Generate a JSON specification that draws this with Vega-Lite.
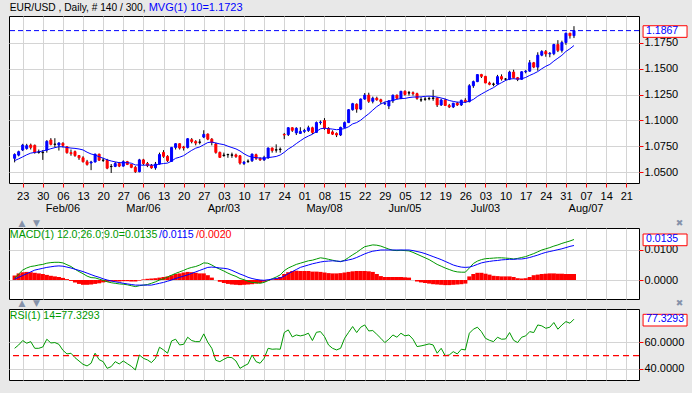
{
"$schema": "https://vega.github.io/schema/vega-lite/v6.json",
"background": "#E8E8E8",
"padding": {"left": 7, "top": 1, "right": 7, "bottom": 13},
"autosize": {"type": "pad"},
"config": {"view": {"stroke": "#000000", "strokeWidth": 1, "fill": "#FFFFFF"}, "axis": {"labelFont": "Liberation Sans", "labelOverlap": false}, "text": {"font": "Liberation Sans"}, "scale": {"continuousPadding": 0}},
"data": {"values": [
{"d":"2017-01-19","o":1.0635,"h":1.0683,"l":1.0596,"c":1.0672,"ma":1.0613,"m":0.0006,"s":0.0003,"hi":0.0015,"r":55.5},
{"d":"2017-01-20","o":1.0666,"h":1.0709,"l":1.0654,"c":1.0699,"ma":1.0630,"m":0.0020,"s":0.0009,"hi":0.0022,"r":58},
{"d":"2017-01-23","o":1.0715,"h":1.0775,"l":1.0705,"c":1.0763,"ma":1.0649,"m":0.0033,"s":0.0015,"hi":0.0026,"r":61.3},
{"d":"2017-01-24","o":1.0730,"h":1.0775,"l":1.0718,"c":1.0757,"ma":1.0669,"m":0.0040,"s":0.0021,"hi":0.0027,"r":59.3},
{"d":"2017-01-25","o":1.0763,"h":1.0777,"l":1.0720,"c":1.0740,"ma":1.0685,"m":0.0045,"s":0.0027,"hi":0.0026,"r":60.5},
{"d":"2017-01-26","o":1.0760,"h":1.0768,"l":1.0680,"c":1.0692,"ma":1.0692,"m":0.0047,"s":0.0033,"hi":0.0024,"r":55.5},
{"d":"2017-01-27","o":1.0693,"h":1.0720,"l":1.0680,"c":1.0697,"ma":1.0698,"m":0.0050,"s":0.0036,"hi":0.0022,"r":55.5},
{"d":"2017-01-30","o":1.0690,"h":1.0715,"l":1.0620,"c":1.0693,"ma":1.0706,"m":0.0052,"s":0.0039,"hi":0.0020,"r":56.5},
{"d":"2017-01-31","o":1.0715,"h":1.0810,"l":1.0690,"c":1.0799,"ma":1.0715,"m":0.0056,"s":0.0042,"hi":0.0017,"r":62.3},
{"d":"2017-02-01","o":1.0811,"h":1.0830,"l":1.0760,"c":1.0770,"ma":1.0728,"m":0.0058,"s":0.0044,"hi":0.0014,"r":59.5},
{"d":"2017-02-02","o":1.0770,"h":1.0829,"l":1.0740,"c":1.0772,"ma":1.0738,"m":0.0059,"s":0.0046,"hi":0.0012,"r":59.8},
{"d":"2017-02-03","o":1.0763,"h":1.0790,"l":1.0710,"c":1.0783,"ma":1.0747,"m":0.0059,"s":0.0047,"hi":0.0010,"r":58.5},
{"d":"2017-02-06","o":1.0780,"h":1.0790,"l":1.0740,"c":1.0760,"ma":1.0746,"m":0.0057,"s":0.0046,"hi":0.0007,"r":54},
{"d":"2017-02-07","o":1.0747,"h":1.0750,"l":1.0680,"c":1.0690,"ma":1.0740,"m":0.0051,"s":0.0043,"hi":0.0003,"r":51.3},
{"d":"2017-02-08","o":1.0690,"h":1.0720,"l":1.0660,"c":1.0680,"ma":1.0734,"m":0.0045,"s":0.0040,"hi":-0.0003,"r":51.8},
{"d":"2017-02-09","o":1.0700,"h":1.0710,"l":1.0650,"c":1.0662,"ma":1.0731,"m":0.0036,"s":0.0036,"hi":-0.0008,"r":48.5},
{"d":"2017-02-10","o":1.0662,"h":1.0665,"l":1.0620,"c":1.0640,"ma":1.0725,"m":0.0028,"s":0.0032,"hi":-0.0013,"r":46},
{"d":"2017-02-13","o":1.0640,"h":1.0655,"l":1.0595,"c":1.0602,"ma":1.0716,"m":0.0021,"s":0.0028,"hi":-0.0016,"r":43.5},
{"d":"2017-02-14","o":1.0602,"h":1.0620,"l":1.0565,"c":1.0576,"ma":1.0694,"m":0.0013,"s":0.0023,"hi":-0.0016,"r":42.3},
{"d":"2017-02-15","o":1.0590,"h":1.0611,"l":1.0521,"c":1.0600,"ma":1.0677,"m":0.0008,"s":0.0018,"hi":-0.0015,"r":44.3},
{"d":"2017-02-16","o":1.0600,"h":1.0680,"l":1.0595,"c":1.0675,"ma":1.0667,"m":0.0007,"s":0.0013,"hi":-0.0013,"r":51.8},
{"d":"2017-02-17","o":1.0675,"h":1.0680,"l":1.0610,"c":1.0617,"ma":1.0650,"m":0.0003,"s":0.0009,"hi":-0.0011,"r":47},
{"d":"2017-02-20","o":1.0617,"h":1.0640,"l":1.0600,"c":1.0616,"ma":1.0636,"m":-0.0001,"s":0.0004,"hi":-0.0008,"r":45.5},
{"d":"2017-02-21","o":1.0616,"h":1.0630,"l":1.0530,"c":1.0540,"ma":1.0621,"m":-0.0006,"s":0.0000,"hi":-0.0006,"r":40.5},
{"d":"2017-02-22","o":1.0555,"h":1.0580,"l":1.0494,"c":1.0557,"ma":1.0609,"m":-0.0009,"s":-0.0003,"hi":-0.0005,"r":41.8},
{"d":"2017-02-23","o":1.0557,"h":1.0600,"l":1.0550,"c":1.0585,"ma":1.0601,"m":-0.0011,"s":-0.0006,"hi":-0.0005,"r":45.5},
{"d":"2017-02-24","o":1.0585,"h":1.0600,"l":1.0550,"c":1.0560,"ma":1.0593,"m":-0.0013,"s":-0.0008,"hi":-0.0005,"r":43.8},
{"d":"2017-02-27","o":1.0560,"h":1.0615,"l":1.0555,"c":1.0603,"ma":1.0593,"m":-0.0014,"s":-0.0011,"hi":-0.0004,"r":46},
{"d":"2017-02-28","o":1.0603,"h":1.0610,"l":1.0570,"c":1.0576,"ma":1.0593,"m":-0.0016,"s":-0.0013,"hi":-0.0004,"r":44},
{"d":"2017-03-01","o":1.0576,"h":1.0580,"l":1.0540,"c":1.0548,"ma":1.0588,"m":-0.0019,"s":-0.0015,"hi":-0.0005,"r":42},
{"d":"2017-03-02","o":1.0548,"h":1.0560,"l":1.0495,"c":1.0506,"ma":1.0571,"m":-0.0022,"s":-0.0017,"hi":-0.0005,"r":39.3},
{"d":"2017-03-03","o":1.0506,"h":1.0630,"l":1.0500,"c":1.0620,"ma":1.0571,"m":-0.0019,"s":-0.0017,"hi":-0.0002,"r":50.5},
{"d":"2017-03-06","o":1.0620,"h":1.0630,"l":1.0570,"c":1.0585,"ma":1.0568,"m":-0.0017,"s":-0.0017,"hi":0.0002,"r":48},
{"d":"2017-03-07","o":1.0585,"h":1.0600,"l":1.0550,"c":1.0565,"ma":1.0571,"m":-0.0015,"s":-0.0017,"hi":0.0004,"r":46.8},
{"d":"2017-03-08","o":1.0565,"h":1.0580,"l":1.0535,"c":1.0543,"ma":1.0569,"m":-0.0011,"s":-0.0017,"hi":0.0005,"r":44.8},
{"d":"2017-03-09","o":1.0543,"h":1.0600,"l":1.0525,"c":1.0580,"ma":1.0569,"m":-0.0006,"s":-0.0014,"hi":0.0006,"r":48},
{"d":"2017-03-10","o":1.0580,"h":1.0690,"l":1.0575,"c":1.0672,"ma":1.0580,"m":0.0000,"s":-0.0011,"hi":0.0008,"r":56.3},
{"d":"2017-03-13","o":1.0692,"h":1.0714,"l":1.0640,"c":1.0654,"ma":1.0585,"m":0.0004,"s":-0.0008,"hi":0.0010,"r":54.3},
{"d":"2017-03-14","o":1.0654,"h":1.0665,"l":1.0600,"c":1.0612,"ma":1.0589,"m":0.0010,"s":-0.0004,"hi":0.0012,"r":51.8},
{"d":"2017-03-15","o":1.0605,"h":1.0745,"l":1.0600,"c":1.0740,"ma":1.0608,"m":0.0016,"s":0.0000,"hi":0.0016,"r":61},
{"d":"2017-03-16","o":1.0740,"h":1.0780,"l":1.0720,"c":1.0776,"ma":1.0635,"m":0.0022,"s":0.0005,"hi":0.0020,"r":62.3},
{"d":"2017-03-17","o":1.0776,"h":1.0780,"l":1.0720,"c":1.0734,"ma":1.0646,"m":0.0027,"s":0.0009,"hi":0.0022,"r":58},
{"d":"2017-03-20","o":1.0745,"h":1.0755,"l":1.0710,"c":1.0735,"ma":1.0661,"m":0.0032,"s":0.0013,"hi":0.0025,"r":58.5},
{"d":"2017-03-21","o":1.0740,"h":1.0830,"l":1.0730,"c":1.0824,"ma":1.0687,"m":0.0038,"s":0.0017,"hi":0.0027,"r":63.8},
{"d":"2017-03-22","o":1.0815,"h":1.0830,"l":1.0780,"c":1.0797,"ma":1.0712,"m":0.0042,"s":0.0022,"hi":0.0026,"r":61.3},
{"d":"2017-03-23","o":1.0797,"h":1.0810,"l":1.0760,"c":1.0782,"ma":1.0733,"m":0.0045,"s":0.0027,"hi":0.0024,"r":60.5},
{"d":"2017-03-24","o":1.0790,"h":1.0820,"l":1.0770,"c":1.0792,"ma":1.0745,"m":0.0050,"s":0.0032,"hi":0.0022,"r":60.5},
{"d":"2017-03-27","o":1.0840,"h":1.0906,"l":1.0830,"c":1.0866,"ma":1.0766,"m":0.0057,"s":0.0037,"hi":0.0022,"r":66.3},
{"d":"2017-03-28","o":1.0869,"h":1.0875,"l":1.0810,"c":1.0820,"ma":1.0787,"m":0.0056,"s":0.0042,"hi":0.0016,"r":60},
{"d":"2017-03-29","o":1.0820,"h":1.0830,"l":1.0760,"c":1.0790,"ma":1.0792,"m":0.0050,"s":0.0043,"hi":0.0008,"r":55.5},
{"d":"2017-03-30","o":1.0773,"h":1.0785,"l":1.0680,"c":1.0692,"ma":1.0783,"m":0.0042,"s":0.0042,"hi":0.0000,"r":46.5},
{"d":"2017-03-31","o":1.0692,"h":1.0700,"l":1.0640,"c":1.0644,"ma":1.0774,"m":0.0036,"s":0.0040,"hi":-0.0006,"r":45.5},
{"d":"2017-04-03","o":1.0662,"h":1.0690,"l":1.0650,"c":1.0666,"ma":1.0767,"m":0.0030,"s":0.0039,"hi":-0.0010,"r":47.3},
{"d":"2017-04-04","o":1.0670,"h":1.0680,"l":1.0640,"c":1.0672,"ma":1.0752,"m":0.0023,"s":0.0037,"hi":-0.0013,"r":48.8},
{"d":"2017-04-05","o":1.0665,"h":1.0690,"l":1.0640,"c":1.0668,"ma":1.0739,"m":0.0017,"s":0.0032,"hi":-0.0015,"r":48.5},
{"d":"2017-04-06","o":1.0668,"h":1.0680,"l":1.0640,"c":1.0652,"ma":1.0726,"m":0.0012,"s":0.0026,"hi":-0.0016,"r":46},
{"d":"2017-04-07","o":1.0660,"h":1.0665,"l":1.0575,"c":1.0589,"ma":1.0706,"m":0.0005,"s":0.0020,"hi":-0.0017,"r":40.5},
{"d":"2017-04-10","o":1.0585,"h":1.0610,"l":1.0570,"c":1.0598,"ma":1.0679,"m":0.0001,"s":0.0015,"hi":-0.0016,"r":42.3},
{"d":"2017-04-11","o":1.0605,"h":1.0625,"l":1.0590,"c":1.0608,"ma":1.0658,"m":-0.0004,"s":0.0009,"hi":-0.0015,"r":43.8},
{"d":"2017-04-12","o":1.0612,"h":1.0680,"l":1.0600,"c":1.0676,"ma":1.0647,"m":-0.0008,"s":0.0005,"hi":-0.0014,"r":50.5},
{"d":"2017-04-13","o":1.0670,"h":1.0680,"l":1.0620,"c":1.0635,"ma":1.0641,"m":-0.0009,"s":0.0002,"hi":-0.0012,"r":45.5},
{"d":"2017-04-14","o":1.0632,"h":1.0645,"l":1.0610,"c":1.0620,"ma":1.0638,"m":-0.0011,"s":0.0000,"hi":-0.0010,"r":44.3},
{"d":"2017-04-17","o":1.0620,"h":1.0660,"l":1.0610,"c":1.0644,"ma":1.0636,"m":-0.0008,"s":-0.0001,"hi":-0.0006,"r":48},
{"d":"2017-04-18","o":1.0640,"h":1.0740,"l":1.0630,"c":1.0734,"ma":1.0642,"m":-0.0002,"s":0.0001,"hi":-0.0002,"r":55.5},
{"d":"2017-04-19","o":1.0734,"h":1.0740,"l":1.0690,"c":1.0710,"ma":1.0647,"m":0.0004,"s":0.0003,"hi":0.0002,"r":54.8},
{"d":"2017-04-20","o":1.0715,"h":1.0770,"l":1.0690,"c":1.0717,"ma":1.0653,"m":0.0010,"s":0.0005,"hi":0.0005,"r":55},
{"d":"2017-04-21","o":1.0720,"h":1.0740,"l":1.0690,"c":1.0723,"ma":1.0667,"m":0.0017,"s":0.0007,"hi":0.0010,"r":54.8},
{"d":"2017-04-24","o":1.0865,"h":1.0880,"l":1.0820,"c":1.0860,"ma":1.0693,"m":0.0031,"s":0.0013,"hi":0.0020,"r":67.3},
{"d":"2017-04-25","o":1.0864,"h":1.0935,"l":1.0850,"c":1.0930,"ma":1.0725,"m":0.0040,"s":0.0021,"hi":0.0026,"r":69.3},
{"d":"2017-04-26","o":1.0930,"h":1.0935,"l":1.0890,"c":1.0905,"ma":1.0748,"m":0.0046,"s":0.0028,"hi":0.0030,"r":64},
{"d":"2017-04-27","o":1.0880,"h":1.0935,"l":1.0860,"c":1.0925,"ma":1.0777,"m":0.0052,"s":0.0035,"hi":0.0031,"r":65.5},
{"d":"2017-04-28","o":1.0875,"h":1.0935,"l":1.0870,"c":1.0895,"ma":1.0804,"m":0.0056,"s":0.0042,"hi":0.0030,"r":64.8},
{"d":"2017-05-01","o":1.0895,"h":1.0920,"l":1.0880,"c":1.0903,"ma":1.0830,"m":0.0060,"s":0.0046,"hi":0.0030,"r":65.5},
{"d":"2017-05-02","o":1.0903,"h":1.0950,"l":1.0890,"c":1.0930,"ma":1.0850,"m":0.0064,"s":0.0050,"hi":0.0030,"r":66.8},
{"d":"2017-05-03","o":1.0930,"h":1.0940,"l":1.0870,"c":1.0885,"ma":1.0867,"m":0.0066,"s":0.0054,"hi":0.0028,"r":61.3},
{"d":"2017-05-04","o":1.0885,"h":1.0990,"l":1.0880,"c":1.0980,"ma":1.0894,"m":0.0070,"s":0.0057,"hi":0.0028,"r":67.5},
{"d":"2017-05-05","o":1.0980,"h":1.1000,"l":1.0960,"c":1.0985,"ma":1.0920,"m":0.0074,"s":0.0060,"hi":0.0027,"r":68},
{"d":"2017-05-08","o":1.1000,"h":1.1023,"l":1.0910,"c":1.0925,"ma":1.0926,"m":0.0072,"s":0.0062,"hi":0.0025,"r":64.3},
{"d":"2017-05-09","o":1.0925,"h":1.0935,"l":1.0870,"c":1.0876,"ma":1.0921,"m":0.0069,"s":0.0063,"hi":0.0023,"r":58},
{"d":"2017-05-10","o":1.0890,"h":1.0905,"l":1.0860,"c":1.0868,"ma":1.0917,"m":0.0066,"s":0.0064,"hi":0.0022,"r":55.5},
{"d":"2017-05-11","o":1.0875,"h":1.0885,"l":1.0840,"c":1.0860,"ma":1.0911,"m":0.0063,"s":0.0063,"hi":0.0022,"r":54.3},
{"d":"2017-05-12","o":1.0860,"h":1.0940,"l":1.0850,"c":1.0933,"ma":1.0915,"m":0.0061,"s":0.0062,"hi":0.0023,"r":55.5},
{"d":"2017-05-15","o":1.0933,"h":1.0990,"l":1.0925,"c":1.0980,"ma":1.0922,"m":0.0066,"s":0.0064,"hi":0.0025,"r":63},
{"d":"2017-05-16","o":1.0980,"h":1.1110,"l":1.0975,"c":1.1104,"ma":1.0940,"m":0.0075,"s":0.0067,"hi":0.0027,"r":67.5},
{"d":"2017-05-17","o":1.1104,"h":1.1170,"l":1.1095,"c":1.1162,"ma":1.0967,"m":0.0084,"s":0.0070,"hi":0.0029,"r":71.8},
{"d":"2017-05-18","o":1.1157,"h":1.1165,"l":1.1075,"c":1.1110,"ma":1.0980,"m":0.0092,"s":0.0075,"hi":0.0030,"r":67.3},
{"d":"2017-05-19","o":1.1110,"h":1.1212,"l":1.1100,"c":1.1207,"ma":1.1003,"m":0.0102,"s":0.0081,"hi":0.0030,"r":71.3},
{"d":"2017-05-22","o":1.1207,"h":1.1265,"l":1.1200,"c":1.1245,"ma":1.1035,"m":0.0111,"s":0.0087,"hi":0.0030,"r":73},
{"d":"2017-05-23","o":1.1245,"h":1.1268,"l":1.1170,"c":1.1185,"ma":1.1065,"m":0.0114,"s":0.0092,"hi":0.0029,"r":68.5},
{"d":"2017-05-24","o":1.1185,"h":1.1230,"l":1.1165,"c":1.1215,"ma":1.1100,"m":0.0117,"s":0.0096,"hi":0.0027,"r":68.8},
{"d":"2017-05-25","o":1.1215,"h":1.1230,"l":1.1190,"c":1.1200,"ma":1.1134,"m":0.0116,"s":0.0098,"hi":0.0020,"r":66},
{"d":"2017-05-26","o":1.1200,"h":1.1210,"l":1.1160,"c":1.1183,"ma":1.1159,"m":0.0113,"s":0.0100,"hi":0.0013,"r":63},
{"d":"2017-05-29","o":1.1160,"h":1.1180,"l":1.1150,"c":1.1165,"ma":1.1178,"m":0.0108,"s":0.0100,"hi":0.0010,"r":59.8},
{"d":"2017-05-30","o":1.1140,"h":1.1195,"l":1.1110,"c":1.1190,"ma":1.1186,"m":0.0103,"s":0.0100,"hi":0.0010,"r":62.3},
{"d":"2017-05-31","o":1.1190,"h":1.1250,"l":1.1170,"c":1.1244,"ma":1.1194,"m":0.0099,"s":0.0100,"hi":0.0010,"r":65.5},
{"d":"2017-06-01","o":1.1244,"h":1.1250,"l":1.1205,"c":1.1214,"ma":1.1205,"m":0.0098,"s":0.0100,"hi":0.0010,"r":63.8},
{"d":"2017-06-02","o":1.1214,"h":1.1285,"l":1.1205,"c":1.1282,"ma":1.1212,"m":0.0099,"s":0.0100,"hi":0.0010,"r":66.8},
{"d":"2017-06-05","o":1.1282,"h":1.1290,"l":1.1240,"c":1.1251,"ma":1.1213,"m":0.0098,"s":0.0100,"hi":0.0009,"r":64.8},
{"d":"2017-06-06","o":1.1265,"h":1.1285,"l":1.1240,"c":1.1268,"ma":1.1221,"m":0.0097,"s":0.0100,"hi":0.0008,"r":65.5},
{"d":"2017-06-07","o":1.1268,"h":1.1280,"l":1.1240,"c":1.1259,"ma":1.1226,"m":0.0092,"s":0.0098,"hi":0.0000,"r":62.3},
{"d":"2017-06-08","o":1.1259,"h":1.1268,"l":1.1200,"c":1.1213,"ma":1.1227,"m":0.0086,"s":0.0095,"hi":-0.0005,"r":56.8},
{"d":"2017-06-09","o":1.1200,"h":1.1225,"l":1.1180,"c":1.1198,"ma":1.1228,"m":0.0080,"s":0.0092,"hi":-0.0008,"r":57.3},
{"d":"2017-06-12","o":1.1205,"h":1.1225,"l":1.1190,"c":1.1207,"ma":1.1233,"m":0.0074,"s":0.0088,"hi":-0.0010,"r":58},
{"d":"2017-06-13","o":1.1210,"h":1.1230,"l":1.1195,"c":1.1212,"ma":1.1235,"m":0.0068,"s":0.0083,"hi":-0.0012,"r":58.8},
{"d":"2017-06-14","o":1.1214,"h":1.1296,"l":1.1190,"c":1.1216,"ma":1.1232,"m":0.0060,"s":0.0078,"hi":-0.0014,"r":58},
{"d":"2017-06-15","o":1.1216,"h":1.1225,"l":1.1130,"c":1.1150,"ma":1.1226,"m":0.0052,"s":0.0073,"hi":-0.0015,"r":51.8},
{"d":"2017-06-16","o":1.1150,"h":1.1210,"l":1.1140,"c":1.1197,"ma":1.1217,"m":0.0046,"s":0.0068,"hi":-0.0016,"r":55.5},
{"d":"2017-06-19","o":1.1197,"h":1.1210,"l":1.1140,"c":1.1145,"ma":1.1207,"m":0.0040,"s":0.0062,"hi":-0.0017,"r":50},
{"d":"2017-06-20","o":1.1145,"h":1.1160,"l":1.1120,"c":1.1131,"ma":1.1193,"m":0.0035,"s":0.0056,"hi":-0.0017,"r":50.5},
{"d":"2017-06-21","o":1.1131,"h":1.1170,"l":1.1120,"c":1.1167,"ma":1.1184,"m":0.0030,"s":0.0050,"hi":-0.0016,"r":53},
{"d":"2017-06-22","o":1.1167,"h":1.1180,"l":1.1140,"c":1.1150,"ma":1.1177,"m":0.0027,"s":0.0046,"hi":-0.0015,"r":51.3},
{"d":"2017-06-23","o":1.1150,"h":1.1200,"l":1.1140,"c":1.1195,"ma":1.1177,"m":0.0026,"s":0.0043,"hi":-0.0014,"r":54.8},
{"d":"2017-06-26","o":1.1195,"h":1.1215,"l":1.1170,"c":1.1182,"ma":1.1175,"m":0.0026,"s":0.0042,"hi":-0.0012,"r":54.3},
{"d":"2017-06-27","o":1.1182,"h":1.1350,"l":1.1175,"c":1.1335,"ma":1.1187,"m":0.0040,"s":0.0043,"hi":0.0012,"r":66.8},
{"d":"2017-06-28","o":1.1335,"h":1.1385,"l":1.1315,"c":1.1375,"ma":1.1203,"m":0.0055,"s":0.0047,"hi":0.0020,"r":69.8},
{"d":"2017-06-29","o":1.1375,"h":1.1445,"l":1.1370,"c":1.1443,"ma":1.1232,"m":0.0063,"s":0.0052,"hi":0.0024,"r":71.3},
{"d":"2017-06-30","o":1.1443,"h":1.1450,"l":1.1410,"c":1.1426,"ma":1.1255,"m":0.0068,"s":0.0057,"hi":0.0024,"r":68},
{"d":"2017-07-03","o":1.1426,"h":1.1430,"l":1.1360,"c":1.1362,"ma":1.1277,"m":0.0071,"s":0.0060,"hi":0.0021,"r":63},
{"d":"2017-07-04","o":1.1362,"h":1.1375,"l":1.1340,"c":1.1349,"ma":1.1298,"m":0.0072,"s":0.0062,"hi":0.0018,"r":61.5},
{"d":"2017-07-05","o":1.1349,"h":1.1365,"l":1.1330,"c":1.1352,"ma":1.1317,"m":0.0073,"s":0.0064,"hi":0.0014,"r":60.5},
{"d":"2017-07-06","o":1.1352,"h":1.1440,"l":1.1345,"c":1.1423,"ma":1.1344,"m":0.0074,"s":0.0065,"hi":0.0013,"r":63.8},
{"d":"2017-07-07","o":1.1423,"h":1.1445,"l":1.1385,"c":1.1400,"ma":1.1365,"m":0.0074,"s":0.0067,"hi":0.0012,"r":62.3},
{"d":"2017-07-10","o":1.1400,"h":1.1410,"l":1.1385,"c":1.1399,"ma":1.1386,"m":0.0073,"s":0.0068,"hi":0.0012,"r":62.5},
{"d":"2017-07-11","o":1.1399,"h":1.1480,"l":1.1390,"c":1.1467,"ma":1.1400,"m":0.0072,"s":0.0069,"hi":0.0012,"r":67.3},
{"d":"2017-07-12","o":1.1467,"h":1.1490,"l":1.1405,"c":1.1413,"ma":1.1403,"m":0.0070,"s":0.0069,"hi":0.0010,"r":61.5},
{"d":"2017-07-13","o":1.1413,"h":1.1420,"l":1.1380,"c":1.1397,"ma":1.1399,"m":0.0072,"s":0.0070,"hi":0.0006,"r":59.8},
{"d":"2017-07-14","o":1.1397,"h":1.1475,"l":1.1395,"c":1.1470,"ma":1.1403,"m":0.0075,"s":0.0070,"hi":0.0005,"r":63.8},
{"d":"2017-07-17","o":1.1470,"h":1.1485,"l":1.1455,"c":1.1476,"ma":1.1415,"m":0.0078,"s":0.0072,"hi":0.0006,"r":64.8},
{"d":"2017-07-18","o":1.1476,"h":1.1583,"l":1.1470,"c":1.1557,"ma":1.1435,"m":0.0083,"s":0.0075,"hi":0.0010,"r":68},
{"d":"2017-07-19","o":1.1557,"h":1.1565,"l":1.1505,"c":1.1515,"ma":1.1452,"m":0.0088,"s":0.0079,"hi":0.0016,"r":67.3},
{"d":"2017-07-20","o":1.1515,"h":1.1658,"l":1.1480,"c":1.1630,"ma":1.1472,"m":0.0094,"s":0.0083,"hi":0.0018,"r":73},
{"d":"2017-07-21","o":1.1630,"h":1.1678,"l":1.1620,"c":1.1665,"ma":1.1499,"m":0.0100,"s":0.0088,"hi":0.0020,"r":72.3},
{"d":"2017-07-24","o":1.1665,"h":1.1680,"l":1.1615,"c":1.1642,"ma":1.1523,"m":0.0104,"s":0.0092,"hi":0.0021,"r":70.5},
{"d":"2017-07-25","o":1.1642,"h":1.1660,"l":1.1610,"c":1.1648,"ma":1.1541,"m":0.0108,"s":0.0095,"hi":0.0022,"r":71.3},
{"d":"2017-07-26","o":1.1645,"h":1.1740,"l":1.1630,"c":1.1733,"ma":1.1573,"m":0.0113,"s":0.0098,"hi":0.0022,"r":74.8},
{"d":"2017-07-27","o":1.1733,"h":1.1775,"l":1.1660,"c":1.1676,"ma":1.1601,"m":0.0117,"s":0.0101,"hi":0.0021,"r":69.8},
{"d":"2017-07-28","o":1.1676,"h":1.1770,"l":1.1655,"c":1.1752,"ma":1.1629,"m":0.0122,"s":0.0104,"hi":0.0021,"r":73},
{"d":"2017-07-31","o":1.1752,"h":1.1847,"l":1.1730,"c":1.1842,"ma":1.1666,"m":0.0126,"s":0.0108,"hi":0.0020,"r":75.5},
{"d":"2017-08-01","o":1.1842,"h":1.1845,"l":1.1790,"c":1.1818,"ma":1.1692,"m":0.0130,"s":0.0112,"hi":0.0020,"r":74.3},
{"d":"2017-08-02","o":1.1818,"h":1.1910,"l":1.1795,"c":1.1867,"ma":1.1723,"m":0.0135,"s":0.0115,"hi":0.0020,"r":77.33}
]},
"transform": [{"window": [{"op": "row_number", "as": "n"}]}],
"bounds": "flush",
"spacing": 45,
"vconcat": [
{
 "width": 630, "height": 167,
 "layer": [
  {"mark": {"type": "rule", "color": "#000000", "strokeWidth": 1},
   "encoding": {
    "x": {"field": "n", "type": "quantitative", "scale": {"domain": [-0.4, 156.16], "nice": false, "zero": false, "padding": 0},
      "axis": {"orient": "bottom", "values": [3,8,13,18,23,28,33,38,43,48,53,58,63,68,73,78,83,88,93,98,103,108,113,118,123,128,133,138,143,148,153], "tickCount": 100,
        "labelExpr": "timeFormat(datetime(2017,0,23+7*(datum.value-3)/5),'%d')",
        "grid": true, "gridColor": "#D4D4D4", "tickColor": "#FF0000", "tickSize": 4, "domain": false, "labelFontSize": 11, "labelColor": "#000000", "labelPadding": 3, "labelFlush": false, "labelOverlap": false, "labelBound": false, "title": null}},
    "y": {"field": "l", "type": "quantitative", "scale": {"domain": [1.0397, 1.2008], "nice": false, "zero": false, "padding": 0},
      "axis": {"orient": "right", "values": [1.05, 1.075, 1.1, 1.125, 1.15, 1.175], "tickCount": 20, "format": ".4f", "grid": true, "gridColor": "#D4D4D4", "tickColor": "#FF0000", "tickSize": 4, "domain": false, "labelFontSize": 11, "labelColor": "#000000", "labelPadding": 1, "labelFlush": false, "labelOverlap": false, "title": null}},
    "y2": {"field": "h"}
   }},
  {"mark": {"type": "bar", "orient": "vertical", "size": 2, "strokeWidth": 1},
   "encoding": {
    "x": {"field": "n", "type": "quantitative"},
    "y": {"field": "o", "type": "quantitative"},
    "y2": {"field": "c"},
    "fill": {"condition": [{"test": "abs(datum.c-datum.o)<=0.00045", "value": "#000000"}, {"test": "datum.c>datum.o", "value": "#0000FF"}], "value": "#FF0000"},
    "stroke": {"condition": [{"test": "abs(datum.c-datum.o)<=0.00045", "value": "#000000"}, {"test": "datum.c>datum.o", "value": "#0000FF"}], "value": "#FF0000"}
   }},
  {"mark": {"type": "line", "color": "#0000FF", "strokeWidth": 1},
   "encoding": {"x": {"field": "n", "type": "quantitative"}, "y": {"field": "ma", "type": "quantitative"}}},
  {"data": {"values": [{}]}, "mark": {"type": "rule", "color": "#0000FF", "strokeWidth": 1, "strokeDash": [5, 3]},
   "encoding": {"y": {"datum": 1.1867, "type": "quantitative"}}},
  {"data": {"values": [{"t": "Feb/06", "p": 13}, {"t": "Mar/06", "p": 33}, {"t": "Apr/03", "p": 53}, {"t": "May/08", "p": 78}, {"t": "Jun/05", "p": 98}, {"t": "Jul/03", "p": 118}, {"t": "Aug/07", "p": 143}]},
   "mark": {"type": "text", "align": "center", "baseline": "middle", "fontSize": 11, "color": "#000000"},
   "encoding": {"x": {"field": "p", "type": "quantitative"}, "y": {"datum": 1.0145, "type": "quantitative"}, "text": {"field": "t"}}},
  {"data": {"values": [{}]}, "mark": {"type": "rect", "fill": "#FFFFFF", "stroke": "#FF0000", "strokeWidth": 1},
   "encoding": {"x": {"datum": 157.17, "type": "quantitative"}, "x2": {"datum": 168.1}, "y": {"datum": 1.1914, "type": "quantitative"}, "y2": {"datum": 1.1802}}},
  {"data": {"values": [{}]}, "mark": {"type": "text", "align": "left", "baseline": "middle", "fontSize": 10.5, "color": "#0000FF", "text": "1.1867"},
   "encoding": {"x": {"datum": 157.92, "type": "quantitative"}, "y": {"datum": 1.1867, "type": "quantitative"}}},
  {"data": {"values": [{}]}, "mark": {"type": "text", "align": "left", "baseline": "middle", "fontSize": 10.2, "color": "#000000", "text": "EUR/USD , Daily, # 140 / 300,"},
   "encoding": {"x": {"datum": -0.2, "type": "quantitative"}, "y": {"datum": 1.2085, "type": "quantitative"}}},
  {"data": {"values": [{}]}, "mark": {"type": "text", "align": "left", "baseline": "middle", "fontSize": 11, "color": "#0000FF", "text": "MVG(1) 10=1.1723"},
   "encoding": {"x": {"datum": 34.3, "type": "quantitative"}, "y": {"datum": 1.2085, "type": "quantitative"}}}
 ]
},
{
 "bounds": "flush",
 "spacing": 10,
 "vconcat": [
  {
   "width": 630, "height": 71,
   "layer": [
    {"mark": {"type": "bar", "orient": "vertical", "size": 4.1, "color": "#FF0000"},
     "encoding": {
      "x": {"field": "n", "type": "quantitative", "scale": {"domain": [-0.4, 156.16], "nice": false, "zero": false, "padding": 0},
        "axis": {"values": [3,8,13,18,23,28,33,38,43,48,53,58,63,68,73,78,83,88,93,98,103,108,113,118,123,128,133,138,143,148,153], "tickCount": 100, "labels": false, "ticks": false, "domain": false, "grid": true, "gridColor": "#D4D4D4", "title": null}},
      "y": {"field": "hi", "type": "quantitative", "stack": null, "scale": {"domain": [-0.00633, 0.01733], "nice": false, "zero": false, "padding": 0},
        "axis": {"orient": "right", "values": [0, 0.01], "tickCount": 20, "format": ".4f", "grid": true, "gridColor": "#D4D4D4", "tickColor": "#FF0000", "tickSize": 4, "domain": false, "labelFontSize": 11, "labelColor": "#000000", "labelPadding": 1, "labelFlush": false, "labelOverlap": false, "title": null}}
     }},
    {"mark": {"type": "line", "color": "#009900", "strokeWidth": 1},
     "encoding": {"x": {"field": "n", "type": "quantitative"}, "y": {"field": "m", "type": "quantitative"}}},
    {"mark": {"type": "line", "color": "#0000FF", "strokeWidth": 1},
     "encoding": {"x": {"field": "n", "type": "quantitative"}, "y": {"field": "s", "type": "quantitative"}}},
    {"data": {"values": [{}]}, "mark": {"type": "text", "align": "left", "baseline": "middle", "fontSize": 10.6, "color": "#009900", "text": "MACD(1) 12.0;26.0;9.0=0.0135"},
     "encoding": {"x": {"datum": -0.2, "type": "quantitative"}, "y": {"datum": 0.015, "type": "quantitative"}}},
    {"data": {"values": [{}]}, "mark": {"type": "text", "align": "left", "baseline": "middle", "fontSize": 10.6, "color": "#0000FF", "text": "/0.0115"},
     "encoding": {"x": {"datum": 36.9, "type": "quantitative"}, "y": {"datum": 0.015, "type": "quantitative"}}},
    {"data": {"values": [{}]}, "mark": {"type": "text", "align": "left", "baseline": "middle", "fontSize": 10.6, "color": "#FF0000", "text": "/0.0020"},
     "encoding": {"x": {"datum": 46.1, "type": "quantitative"}, "y": {"datum": 0.015, "type": "quantitative"}}},
    {"data": {"values": [{}]}, "mark": {"type": "rect", "fill": "#FFFFFF", "stroke": "#FF0000", "strokeWidth": 1},
     "encoding": {"x": {"datum": 157.17, "type": "quantitative"}, "x2": {"datum": 168.1}, "y": {"datum": 0.01533, "type": "quantitative"}, "y2": {"datum": 0.01143}}},
    {"data": {"values": [{}]}, "mark": {"type": "text", "align": "left", "baseline": "middle", "fontSize": 10.5, "color": "#0000FF", "text": "0.0135"},
     "encoding": {"x": {"datum": 157.92, "type": "quantitative"}, "y": {"datum": 0.0135, "type": "quantitative"}}},
    {"data": {"values": [{"t": "▲", "p": 2.83}, {"t": "▼", "p": 6.43}]}, "mark": {"type": "text", "align": "center", "baseline": "middle", "fontSize": 9, "font": "DejaVu Sans", "color": "#8592AA"},
     "encoding": {"x": {"field": "p", "type": "quantitative"}, "y": {"datum": 0.0189, "type": "quantitative"}, "text": {"field": "t"}}},
    {"data": {"values": [{}]}, "mark": {"type": "text", "align": "center", "baseline": "middle", "fontSize": 9, "font": "DejaVu Sans", "color": "#8592AA", "text": "✖"},
     "encoding": {"x": {"datum": 166.25, "type": "quantitative"}, "y": {"datum": 0.0189, "type": "quantitative"}}}
   ]
  },
  {
   "width": 630, "height": 71,
   "layer": [
    {"mark": {"type": "line", "color": "#009900", "strokeWidth": 1},
     "encoding": {
      "x": {"field": "n", "type": "quantitative", "scale": {"domain": [-0.4, 156.16], "nice": false, "zero": false, "padding": 0},
        "axis": {"values": [3,8,13,18,23,28,33,38,43,48,53,58,63,68,73,78,83,88,93,98,103,108,113,118,123,128,133,138,143,148,153], "tickCount": 100, "labels": false, "ticks": false, "domain": false, "grid": true, "gridColor": "#D4D4D4", "title": null}},
      "y": {"field": "r", "type": "quantitative", "scale": {"domain": [31.76, 84.94], "nice": false, "zero": false, "padding": 0},
        "axis": {"orient": "right", "values": [40, 60], "tickCount": 20, "format": ".4f", "grid": true, "gridColor": "#D4D4D4", "tickColor": "#FF0000", "tickSize": 4, "domain": false, "labelFontSize": 11, "labelColor": "#000000", "labelPadding": 1, "labelFlush": false, "labelOverlap": false, "title": null}}
     }},
    {"data": {"values": [{}]}, "mark": {"type": "rule", "color": "#FF0000", "strokeWidth": 1.2, "strokeDash": [6, 4]},
     "encoding": {"y": {"datum": 50, "type": "quantitative"}}},
    {"data": {"values": [{}]}, "mark": {"type": "text", "align": "left", "baseline": "middle", "fontSize": 10.6, "color": "#009900", "text": "RSI(1) 14=77.3293"},
     "encoding": {"x": {"datum": -0.2, "type": "quantitative"}, "y": {"datum": 79.93, "type": "quantitative"}}},
    {"data": {"values": [{}]}, "mark": {"type": "rect", "fill": "#FFFFFF", "stroke": "#FF0000", "strokeWidth": 1},
     "encoding": {"x": {"datum": 157.17, "type": "quantitative"}, "x2": {"datum": 168.1}, "y": {"datum": 80.97, "type": "quantitative"}, "y2": {"datum": 72.21}}},
    {"data": {"values": [{}]}, "mark": {"type": "text", "align": "left", "baseline": "middle", "fontSize": 10.5, "color": "#0000FF", "text": "77.3293"},
     "encoding": {"x": {"datum": 157.92, "type": "quantitative"}, "y": {"datum": 77.33, "type": "quantitative"}}},
    {"data": {"values": [{"t": "▲", "p": 2.83}, {"t": "▼", "p": 6.43}]}, "mark": {"type": "text", "align": "center", "baseline": "middle", "fontSize": 9, "font": "DejaVu Sans", "color": "#8592AA"},
     "encoding": {"x": {"field": "p", "type": "quantitative"}, "y": {"datum": 89.21, "type": "quantitative"}, "text": {"field": "t"}}},
    {"data": {"values": [{}]}, "mark": {"type": "text", "align": "center", "baseline": "middle", "fontSize": 9, "font": "DejaVu Sans", "color": "#8592AA", "text": "✖"},
     "encoding": {"x": {"datum": 166.25, "type": "quantitative"}, "y": {"datum": 89.21, "type": "quantitative"}}}
   ]
  }
 ]
}
]
}
